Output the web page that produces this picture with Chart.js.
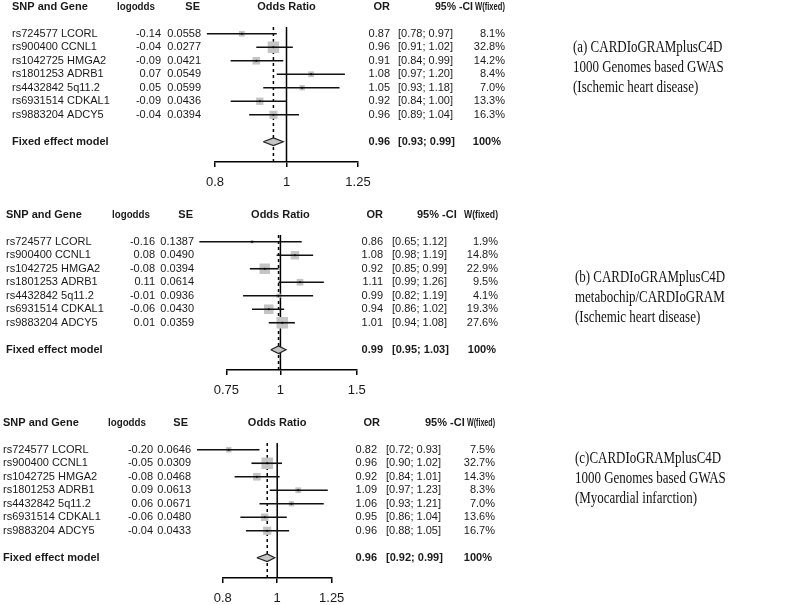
<!DOCTYPE html>
<html>
<head>
<meta charset="utf-8">
<script src="https://cdn.jsdelivr.net/npm/chart.js@4"></script>
<style>
  html, body { margin: 0; padding: 0; background: #fff; overflow: hidden; }
  #wrap { position: relative; width: 787px; height: 605px; }
  canvas { position: absolute; left: 0; }
  .note {
    position: absolute;
    font-family: "Liberation Serif", "Times New Roman", serif;
    font-size: 16px;
    line-height: 20px;
    color: #111;
    white-space: nowrap;
    transform: scaleX(0.81);
    transform-origin: 0 0;
  }
</style>
</head>
<body>
<div id="wrap">
  <canvas id="chartA" width="787" height="192" style="top:0px"></canvas>
  <canvas id="chartB" width="787" height="192" style="top:208px"></canvas>
  <canvas id="chartC" width="787" height="192" style="top:416px"></canvas>
  <div class="note" style="left:573px; top:37px">(a) CARDIoGRAMplusC4D<br>1000 Genomes based GWAS<br>(Ischemic heart disease)</div>
  <div class="note" style="left:575px; top:267px">(b) CARDIoGRAMplusC4D<br>metabochip/CARDIoGRAM<br>(Ischemic heart disease)</div>
  <div class="note" style="left:575px; top:448px">(c)CARDIoGRAMplusC4D<br>1000 Genomes based GWAS<br>(Myocardial infarction)</div>
</div>
<script>
// rows, same SNPs in every panel
const snpLabels = ['rs724577 LCORL', 'rs900400 CCNL1', 'rs1042725 HMGA2', 'rs1801253 ADRB1',
                   'rs4432842 5q11.2', 'rs6931514 CDKAL1', 'rs9883204 ADCY5'];

// (a) 1000 Genomes, ischemic heart disease
const logoddsA = [-0.14, -0.04, -0.09, 0.07, 0.05, -0.09, -0.04];
const seA      = [0.0558, 0.0277, 0.0421, 0.0549, 0.0599, 0.0436, 0.0394];
const orA      = [0.87, 0.96, 0.91, 1.08, 1.05, 0.92, 0.96];
const ciLowA   = [0.78, 0.91, 0.84, 0.97, 0.93, 0.84, 0.89];
const ciHighA  = [0.97, 1.02, 0.99, 1.20, 1.18, 1.00, 1.04];
const weightA  = [8.1, 32.8, 14.2, 8.4, 7.0, 13.3, 16.3];
const pooledA  = [0.96, 0.93, 0.99];
const ticksA   = [0.8, 1, 1.25];

// (b) metabochip / CARDIoGRAM, ischemic heart disease
const logoddsB = [-0.16, 0.08, -0.08, 0.11, -0.01, -0.06, 0.01];
const seB      = [0.1387, 0.0490, 0.0394, 0.0614, 0.0936, 0.0430, 0.0359];
const orB      = [0.86, 1.08, 0.92, 1.11, 0.99, 0.94, 1.01];
const ciLowB   = [0.65, 0.98, 0.85, 0.99, 0.82, 0.86, 0.94];
const ciHighB  = [1.12, 1.19, 0.99, 1.26, 1.19, 1.02, 1.08];
const weightB  = [1.9, 14.8, 22.9, 9.5, 4.1, 19.3, 27.6];
const pooledB  = [0.99, 0.95, 1.03];
const ticksB   = [0.75, 1, 1.5];

// (c) 1000 Genomes, myocardial infarction
const logoddsC = [-0.20, -0.05, -0.08, 0.09, 0.06, -0.06, -0.04];
const seC      = [0.0646, 0.0309, 0.0468, 0.0613, 0.0671, 0.0480, 0.0433];
const orC      = [0.82, 0.96, 0.92, 1.09, 1.06, 0.95, 0.96];
const ciLowC   = [0.72, 0.90, 0.84, 0.97, 0.93, 0.86, 0.88];
const ciHighC  = [0.93, 1.02, 1.01, 1.23, 1.21, 1.04, 1.05];
const weightC  = [7.5, 32.7, 14.3, 8.3, 7.0, 13.6, 16.7];
const pooledC  = [0.96, 0.92, 0.99];
const ticksC   = [0.8, 1, 1.25];

// layout (rows on the y scale)
const HEADER_ROW = -2, FIXED_ROW = 8, AXIS_ROW = 9.5, TOP_ROW = -2.5, LINE_TOP = -0.5;
const AXIS_H = 30;
const MAX_BOX = 11.5, DIAMOND_H = 0.28;
const textColor = '#1a1a1a', boxColor = '#c4c4c4';
const SANS = '"Liberation Sans", Arial, sans-serif';

function tablePlugin(p) {
  return {
    id: 'table',
    afterDraw(chart) {
      const ctx = chart.ctx, ys = chart.scales.y, xs = chart.scales.x, c = p.cols;
      ctx.save();
      ctx.fillStyle = textColor;
      ctx.textBaseline = 'middle';
      function put(str, px, row, align, bold, maxW) {
        ctx.font = (bold ? 'bold ' : '') + '11px ' + SANS;
        ctx.textAlign = align;
        if (maxW) ctx.fillText(str, px, ys.getPixelForValue(row), maxW);
        else ctx.fillText(str, px, ys.getPixelForValue(row));
      }
      put('SNP and Gene', c.name, HEADER_ROW, 'left', true);
      put('logodds', c.hLogodds, HEADER_ROW, 'left', true, 38);
      put('SE', c.hSe, HEADER_ROW, 'right', true);
      put('Odds Ratio', xs.getPixelForValue(1), HEADER_ROW, 'center', true);
      put('OR', c.hOr, HEADER_ROW, 'right', true);
      put('95% -CI', c.hCi, HEADER_ROW, 'left', true, c.ciW);
      put('W(fixed)', c.w, HEADER_ROW, 'right', true, c.wW);

      snpLabels.forEach(function (lab, i) {
        put(lab, c.name, i, 'left');
        put(p.logodds[i].toFixed(2), c.logodds, i, 'right');
        put(p.se[i].toFixed(4), c.se, i, 'right');
        put(p.or[i].toFixed(2), c.or, i, 'right');
        put('[' + p.lo[i].toFixed(2) + '; ' + p.hi[i].toFixed(2) + ']', c.ci, i, 'left');
        put(p.weight[i].toFixed(1) + '%', c.w, i, 'right');
      });

      put('Fixed effect model', c.name, FIXED_ROW, 'left', true);
      put(p.pooled[0].toFixed(2), c.or, FIXED_ROW, 'right', true);
      put('[' + p.pooled[1].toFixed(2) + '; ' + p.pooled[2].toFixed(2) + ']', c.ci, FIXED_ROW, 'left', true);
      put('100%', c.wTotal, FIXED_ROW, 'right', true);
      ctx.restore();
    }
  };
}

function makeChart(id, p) {
  const rows = snpLabels.map(function (_, i) { return i; });
  const maxW = Math.max.apply(null, p.weight);
  const est = p.pooled[0], lo = p.pooled[1], hi = p.pooled[2];
  const datasets = [];

  // centre dots
  datasets.push({
    type: 'scatter', order: 0, clip: false,
    data: rows.map(function (i) { return { x: p.or[i], y: i }; }),
    pointStyle: 'circle', pointRadius: 1.1, backgroundColor: '#000', borderWidth: 0
  });
  // confidence intervals
  rows.forEach(function (i) {
    datasets.push({
      type: 'line', order: 1, clip: false,
      data: [{ x: p.lo[i], y: i }, { x: p.hi[i], y: i }],
      borderColor: '#111', borderWidth: 1.6, pointRadius: 0
    });
  });
  // weight boxes
  datasets.push({
    type: 'scatter', order: 2, clip: false,
    data: rows.map(function (i) { return { x: p.or[i], y: i }; }),
    pointStyle: 'rect',
    pointRadius: p.weight.map(function (w) { return MAX_BOX * Math.sqrt(w / maxW) / Math.SQRT2; }),
    backgroundColor: boxColor, borderWidth: 0
  });
  // fixed effect diamond
  datasets.push({
    type: 'line', order: 1, clip: false,
    data: [{ x: lo, y: FIXED_ROW }, { x: est, y: FIXED_ROW - DIAMOND_H }, { x: hi, y: FIXED_ROW },
           { x: est, y: FIXED_ROW + DIAMOND_H }, { x: lo, y: FIXED_ROW }],
    fill: 'shape', backgroundColor: boxColor, borderColor: '#222', borderWidth: 1.2, pointRadius: 0
  });
  // no-effect line and pooled estimate line
  datasets.push({
    type: 'line', order: 3, clip: false,
    data: [{ x: 1, y: LINE_TOP }, { x: 1, y: AXIS_ROW }],
    borderColor: '#000', borderWidth: 1.5, pointRadius: 0
  });
  datasets.push({
    type: 'line', order: 3, clip: false,
    data: [{ x: est, y: LINE_TOP }, { x: est, y: AXIS_ROW }],
    borderColor: '#000', borderWidth: 1.5, borderDash: [3, 3], pointRadius: 0
  });

  return new Chart(document.getElementById(id), {
    type: 'scatter',
    data: { datasets: datasets },
    options: {
      responsive: false,
      animation: false,
      events: [],
      layout: { autoPadding: false, padding: { left: p.left, right: 787 - p.right, top: 0, bottom: 0 } },
      plugins: { legend: { display: false }, tooltip: { enabled: false } },
      scales: {
        x: {
          type: 'logarithmic',
          min: p.ticks[0],
          max: p.ticks[p.ticks.length - 1],
          afterBuildTicks: function (s) { s.ticks = p.ticks.map(function (v) { return { value: v }; }); },
          afterFit: function (s) { s.height = AXIS_H; },
          border: { display: true, color: '#000', width: 1.5 },
          grid: { drawOnChartArea: false, drawTicks: true, tickLength: 5, color: '#000', lineWidth: 1.5 },
          ticks: {
            autoSkip: false, maxRotation: 0, padding: 8, color: textColor,
            font: { family: SANS, size: 13 },
            callback: function (v) { return String(v); }
          }
        },
        y: { type: 'linear', display: false, reverse: true, min: TOP_ROW, max: AXIS_ROW }
      }
    },
    plugins: [tablePlugin(p)]
  });
}

makeChart('chartA', {
  logodds: logoddsA, se: seA, or: orA, lo: ciLowA, hi: ciHighA, weight: weightA, pooled: pooledA, ticks: ticksA,
  left: 215, right: 358,
  cols: { name: 12, hLogodds: 117, logodds: 161, hSe: 200, se: 201, hOr: 390, or: 390,
          hCi: 435, ciW: 38, ci: 398, w: 505, wW: 30, wTotal: 501 }
});
makeChart('chartB', {
  logodds: logoddsB, se: seB, or: orB, lo: ciLowB, hi: ciHighB, weight: weightB, pooled: pooledB, ticks: ticksB,
  left: 226.3, right: 356.7,
  cols: { name: 6, hLogodds: 112, logodds: 155, hSe: 193, se: 194, hOr: 383, or: 383,
          hCi: 417, ciW: 43, ci: 392, w: 498, wW: 34, wTotal: 496 }
});
makeChart('chartC', {
  logodds: logoddsC, se: seC, or: orC, lo: ciLowC, hi: ciHighC, weight: weightC, pooled: pooledC, ticks: ticksC,
  left: 222.7, right: 331.7,
  cols: { name: 3, hLogodds: 108, logodds: 153, hSe: 188, se: 191, hOr: 380, or: 377,
          hCi: 425, ciW: 40, ci: 386, w: 495, wW: 28, wTotal: 492 }
});
</script>
</body>
</html>
